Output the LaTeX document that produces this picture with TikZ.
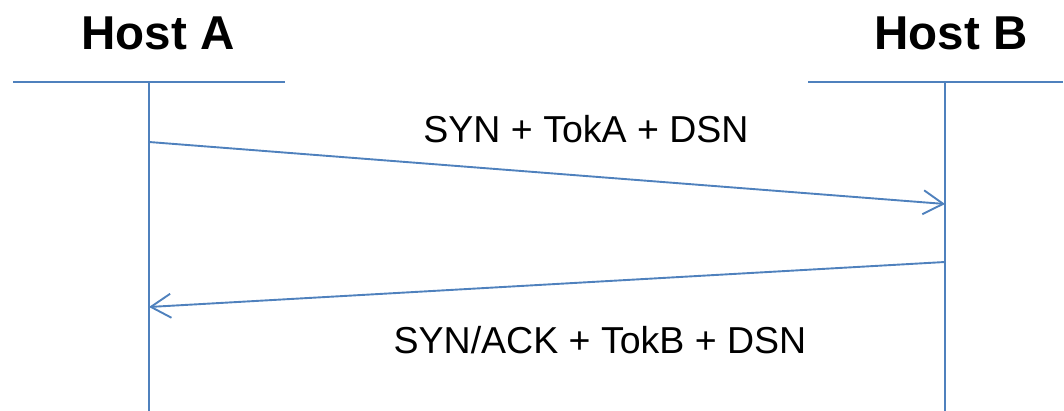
\documentclass[tikz,border=0pt]{standalone}
\usepackage{fontspec}
\setmainfont{Liberation Sans}
\usetikzlibrary{arrows.meta}
\definecolor{lineblue}{RGB}{79,129,189}
\begin{document}
\begin{tikzpicture}[x=1pt,y=-1pt,
  ln/.style={draw=lineblue,line width=1.9pt},
  msg/.style={ln,-{Straight Barb[length=20pt,width=24pt,line width=1.9pt]}},
  host/.style={font=\fontsize{47.5}{52}\selectfont\bfseries,inner sep=0pt},
  lbl/.style={font=\fontsize{37.5}{42}\selectfont,inner sep=0pt}]
\useasboundingbox (0,0) rectangle (1064,411);
\node[host] (ha) at (158,33) {Host A};
\node[host] (hb) at (951,33) {Host B};
\coordinate (a0) at (13,82);
\coordinate (a1) at (285,82);
\coordinate (at) at (149,82);
\coordinate (ab) at (149,411);
\coordinate (b0) at (808,82);
\coordinate (b1) at (1063,82);
\coordinate (bt) at (945,82);
\coordinate (bb) at (945,411);
\draw[ln] (a0) -- (a1);
\draw[ln] (b0) -- (b1);
\draw[ln] (at) -- (ab);
\draw[ln] (bt) -- (bb);
\coordinate (s1) at (149,142);
\coordinate (e1) at (945,204);
\coordinate (s2) at (945,262);
\coordinate (e2) at (149,307);
\draw[msg] (s1) -- (e1);
\draw[msg] (s2) -- (e2);
\node[lbl] (l1) at (586,129) {SYN + TokA + DSN};
\node[lbl] (l2) at (600,340) {SYN/ACK + TokB + DSN};
\end{tikzpicture}
\end{document}
